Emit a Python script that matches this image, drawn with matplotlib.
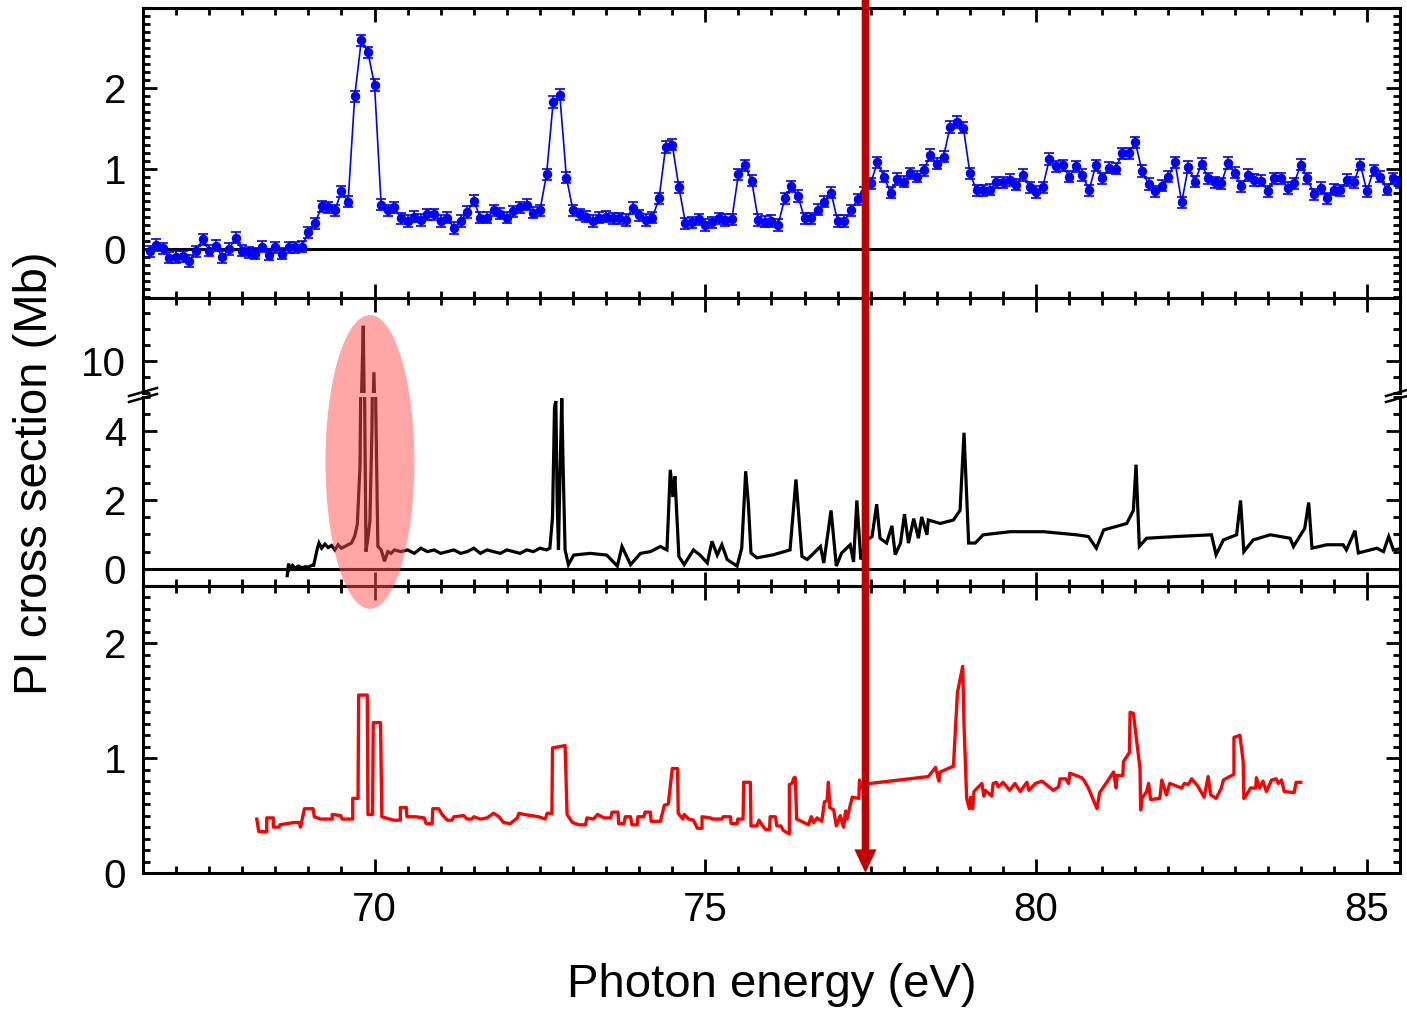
import numpy as np
import matplotlib
matplotlib.use("Agg")
import matplotlib.pyplot as plt
from matplotlib.ticker import MultipleLocator, FixedLocator
from matplotlib.patches import Ellipse, ConnectionPatch
from matplotlib.lines import Line2D

plt.rcParams['font.family'] = ['Liberation Sans', 'DejaVu Sans']

# ---- top panel: measured PI cross section (Mb), 0.1 eV grid from 66.6 eV
top_sigma = [
    -0.03, 0.05, 0.01, -0.11, -0.10, -0.09, -0.15, -0.03, 0.12, -0.02,
    0.04, -0.10, 0.00, 0.14, -0.02, -0.04, -0.06, 0.03, -0.07, 0.02,
    -0.06, 0.02, 0.02, 0.03, 0.21, 0.32, 0.53, 0.52, 0.48, 0.72,
    0.59, 1.90, 2.60, 2.45, 2.04, 0.55, 0.48, 0.52, 0.38, 0.35,
    0.40, 0.36, 0.43, 0.43, 0.35, 0.39, 0.26, 0.35, 0.46, 0.60,
    0.39, 0.39, 0.48, 0.44, 0.39, 0.47, 0.52, 0.55, 0.45, 0.48,
    0.93, 1.83, 1.92, 0.89, 0.48, 0.43, 0.40, 0.35, 0.39, 0.40,
    0.38, 0.38, 0.36, 0.51, 0.42, 0.36, 0.39, 0.63, 1.27, 1.30,
    0.77, 0.32, 0.33, 0.37, 0.30, 0.33, 0.38, 0.36, 0.37, 0.93,
    1.04, 0.85, 0.36, 0.34, 0.35, 0.30, 0.63, 0.78, 0.66, 0.38,
    0.38, 0.49, 0.59, 0.70, 0.35, 0.35, 0.48, 0.62, 0.70, 0.82,
    1.08, 0.90, 0.70, 0.87, 0.84, 0.94, 0.90, 0.98, 1.17, 1.06,
    1.15, 1.52, 1.58, 1.51, 0.94, 0.73, 0.73, 0.74, 0.83, 0.83,
    0.86, 0.80, 0.92, 0.77, 0.71, 0.77, 1.12, 1.03, 1.04, 0.90,
    1.03, 0.92, 0.73, 1.04, 0.88, 1.01, 1.00, 1.19, 1.19, 1.33,
    0.97, 0.81, 0.72, 0.79, 0.90, 1.08, 0.58, 1.02, 0.84, 1.06,
    0.88, 0.83, 0.82, 1.07, 0.95, 0.78, 0.92, 0.86, 0.85, 0.72,
    0.88, 0.88, 0.76, 0.82, 1.05, 0.88, 0.68, 0.76, 0.63, 0.74,
    0.73, 0.86, 0.83, 1.05, 0.72, 0.98, 0.90, 0.74, 0.88, 0.83,
]
top_energy = 66.6 + 0.1 * np.arange(len(top_sigma))
top_err = 0.07

# ---- middle panel: high resolution spectrum (Mb)
mid_energy = [
    68.68, 68.70, 68.72, 68.76, 68.80, 68.85, 68.90, 68.95, 69.00, 69.05,
    69.08, 69.13, 69.16, 69.20, 69.25, 69.30, 69.35, 69.40, 69.45, 69.50,
    69.55, 69.60, 69.65, 69.70, 69.74, 69.78, 69.81, 69.83, 69.85, 69.87,
    69.90, 69.93, 69.96, 69.99, 70.02, 70.05, 70.10, 70.15, 70.20, 70.25,
    70.30, 70.40, 70.50, 70.60, 70.70, 70.80, 70.90, 71.00, 71.10, 71.20,
    71.30, 71.40, 71.50, 71.60, 71.70, 71.80, 71.90, 72.00, 72.10, 72.20,
    72.30, 72.40, 72.50, 72.60, 72.65, 72.69, 72.72, 72.74, 72.76, 72.78,
    72.80, 72.83, 72.85, 72.88, 72.93, 73.01, 73.26, 73.51, 73.67, 73.74,
    73.87, 74.02, 74.17, 74.32, 74.42, 74.47, 74.51, 74.54, 74.60, 74.68,
    74.82, 74.92, 75.03, 75.10, 75.18, 75.25, 75.33, 75.48, 75.55, 75.61,
    75.65, 75.69, 75.78, 76.03, 76.28, 76.37, 76.46, 76.54, 76.74, 76.79,
    76.90, 76.98, 77.06, 77.19, 77.24, 77.29, 77.35, 77.42, 77.52, 77.59,
    77.64, 77.74, 77.82, 77.87, 77.95, 78.01, 78.07, 78.15, 78.22, 78.27,
    78.35, 78.37, 78.55, 78.75, 78.85, 78.91, 78.98, 79.08, 79.20, 79.61,
    80.11, 80.61, 80.79, 80.91, 81.02, 81.37, 81.47, 81.51, 81.56, 81.67,
    82.12, 82.65, 82.72, 82.83, 83.03, 83.09, 83.14, 83.28, 83.54, 83.84,
    83.89, 84.06, 84.12, 84.17, 84.39, 84.64, 84.69, 84.82, 84.87, 85.15,
    85.25, 85.33, 85.40, 85.55,
]
mid_sigma = [
    -0.20, 0.15, 0.00, 0.10, 0.02, 0.08, 0.03, 0.06, 0.05, 0.10,
    0.10, 0.55, 0.75, 0.60, 0.72, 0.62, 0.68, 0.55, 0.70, 0.60,
    0.65, 0.70, 0.75, 0.95, 1.30, 3.00, 9.00, 12.2, 5.00, 0.50,
    0.90, 1.40, 4.00, 9.30, 4.50, 0.65, 0.55, 0.22, 0.50, 0.45,
    0.55, 0.50, 0.55, 0.45, 0.60, 0.50, 0.55, 0.45, 0.50, 0.55,
    0.45, 0.50, 0.60, 0.45, 0.55, 0.50, 0.45, 0.55, 0.50, 0.45,
    0.55, 0.50, 0.60, 0.55, 0.60, 1.50, 4.70, 4.88, 2.00, 0.55,
    2.50, 4.96, 3.00, 0.55, 0.12, 0.40, 0.45, 0.40, 0.08, 0.65,
    0.12, 0.45, 0.50, 0.65, 0.55, 2.88, 2.09, 2.69, 0.36, 0.12,
    0.55, 0.40, 0.17, 0.80, 0.40, 0.70, 0.27, 0.08, 0.60, 2.84,
    1.90, 0.46, 0.32, 0.41, 0.55, 2.60, 0.36, 0.27, 0.65, 0.17,
    1.70, 0.08, 0.46, 0.70, 0.20, 1.99, 0.27, 0.80, 0.94, 1.88,
    0.89, 0.75, 1.25, 0.41, 0.75, 1.59, 0.75, 1.46, 0.89, 1.51,
    0.99, 1.42, 1.32, 1.42, 1.70, 3.96, 0.75, 0.75, 0.99, 1.08,
    1.08, 0.99, 0.94, 0.60, 1.13, 1.32, 1.70, 3.03, 0.65, 0.89,
    0.94, 0.99, 0.41, 0.84, 0.99, 1.99, 0.50, 0.84, 0.99, 0.89,
    0.65, 1.18, 1.93, 0.60, 0.70, 0.70, 0.55, 1.11, 0.46, 0.60,
    0.50, 0.94, 0.55, 0.60,
]

# ---- bottom panel: theory (Mb)
theo_energy = [
    68.22, 68.25, 68.37, 68.37, 68.47, 68.47, 68.56, 68.57, 68.78, 68.86,
    68.88, 68.94, 69.07, 69.09, 69.18, 69.36, 69.36, 69.49, 69.51, 69.67,
    69.67, 69.75, 69.76, 69.89, 69.90, 69.97, 69.98, 70.09, 70.11, 70.17,
    70.29, 70.39, 70.39, 70.48, 70.49, 70.62, 70.75, 70.78, 70.87, 70.88,
    70.97, 71.02, 71.10, 71.17, 71.20, 71.35, 71.40, 71.47, 71.50, 71.60,
    71.70, 71.80, 71.88, 71.95, 72.05, 72.16, 72.18, 72.26, 72.48, 72.58,
    72.61, 72.68, 72.69, 72.79, 72.88, 72.91, 72.99, 73.09, 73.19, 73.21,
    73.31, 73.37, 73.47, 73.57, 73.59, 73.68, 73.69, 73.77, 73.79, 73.87,
    73.89, 73.97, 73.98, 74.07, 74.09, 74.17, 74.18, 74.32, 74.38, 74.44,
    74.50, 74.58, 74.59, 74.66, 74.68, 74.75, 74.82, 74.88, 74.95, 74.95,
    75.08, 75.10, 75.25, 75.27, 75.38, 75.39, 75.48, 75.49, 75.57, 75.58,
    75.68, 75.69, 75.78, 75.81, 75.88, 75.91, 75.97, 75.98, 76.06, 76.08,
    76.14, 76.18, 76.27, 76.27, 76.31, 76.34, 76.36, 76.38, 76.56, 76.60,
    76.64, 76.69, 76.76, 76.80, 76.84, 76.86, 76.88, 76.94, 76.98, 77.04,
    77.09, 77.12, 77.14, 77.22, 77.32, 77.33, 77.35, 77.49, 78.37, 78.48,
    78.53, 78.55, 78.75, 78.81, 78.89, 78.91, 78.95, 78.99, 79.01, 79.04,
    79.06, 79.18, 79.21, 79.23, 79.33, 79.35, 79.40, 79.43, 79.50, 79.60,
    79.68, 79.76, 79.86, 79.89, 79.99, 80.09, 80.26, 80.34, 80.36, 80.45,
    80.49, 80.51, 80.69, 80.72, 80.79, 80.92, 80.96, 81.09, 81.17, 81.21,
    81.22, 81.31, 81.32, 81.41, 81.42, 81.47, 81.57, 81.58, 81.60, 81.67,
    81.70, 81.73, 81.87, 81.90, 81.97, 82.02, 82.20, 82.24, 82.30, 82.35,
    82.44, 82.54, 82.60, 82.64, 82.72, 82.80, 82.83, 82.99, 82.99, 83.08,
    83.13, 83.14, 83.16, 83.24, 83.32, 83.33, 83.38, 83.43, 83.48, 83.56,
    83.63, 83.66, 83.71, 83.75, 83.90, 83.93, 84.00,
]
theo_sigma = [
    0.47, 0.36, 0.36, 0.48, 0.48, 0.40, 0.40, 0.42, 0.44, 0.44,
    0.40, 0.56, 0.56, 0.49, 0.47, 0.47, 0.51, 0.50, 0.47, 0.47,
    0.65, 0.65, 1.55, 1.55, 0.51, 0.51, 1.31, 1.31, 0.49, 0.48,
    0.46, 0.46, 0.57, 0.57, 0.49, 0.49, 0.48, 0.43, 0.43, 0.56,
    0.56, 0.51, 0.46, 0.46, 0.49, 0.50, 0.47, 0.47, 0.49, 0.47,
    0.48, 0.52, 0.49, 0.44, 0.43, 0.48, 0.52, 0.51, 0.49, 0.47,
    0.52, 0.52, 1.09, 1.10, 1.11, 0.51, 0.44, 0.42, 0.42, 0.48,
    0.47, 0.51, 0.48, 0.48, 0.53, 0.53, 0.43, 0.43, 0.49, 0.49,
    0.42, 0.42, 0.49, 0.49, 0.53, 0.53, 0.45, 0.45, 0.59, 0.60,
    0.91, 0.91, 0.52, 0.47, 0.51, 0.47, 0.46, 0.39, 0.39, 0.49,
    0.48, 0.47, 0.47, 0.49, 0.49, 0.43, 0.43, 0.47, 0.47, 0.79,
    0.79, 0.41, 0.41, 0.46, 0.40, 0.38, 0.38, 0.49, 0.49, 0.41,
    0.41, 0.37, 0.34, 0.77, 0.78, 0.83, 0.83, 0.47, 0.42, 0.49,
    0.44, 0.48, 0.45, 0.62, 0.63, 0.79, 0.57, 0.55, 0.41, 0.50,
    0.40, 0.54, 0.47, 0.66, 0.65, 0.81, 0.74, 0.78, 0.84, 0.92,
    0.80, 0.88, 0.93, 1.57, 1.80, 1.29, 0.65, 0.56, 0.66, 0.56,
    0.71, 0.78, 0.67, 0.72, 0.67, 0.78, 0.79, 0.75, 0.79, 0.72,
    0.78, 0.71, 0.79, 0.72, 0.78, 0.80, 0.72, 0.75, 0.82, 0.82,
    0.78, 0.87, 0.83, 0.81, 0.74, 0.56, 0.70, 0.81, 0.88, 0.74,
    0.85, 0.85, 0.97, 1.05, 1.40, 1.39, 0.91, 0.55, 0.65, 0.71,
    0.78, 0.64, 0.65, 0.81, 0.68, 0.78, 0.74, 0.78, 0.77, 0.82,
    0.76, 0.66, 0.84, 0.68, 0.65, 0.74, 0.81, 0.86, 1.18, 1.20,
    0.97, 0.65, 0.66, 0.74, 0.74, 0.83, 0.74, 0.80, 0.71, 0.81,
    0.82, 0.78, 0.81, 0.71, 0.70, 0.79, 0.79,
]

arrow_energy = 77.42
ellipse_center = (69.93, 3.11)

W, H = 1407, 1009
fig = plt.figure(figsize=(W / 100, H / 100), dpi=100)

def frac_box(top_px, bot_px):
    return [143 / W, 1 - bot_px / H, (1400 - 143) / W, (bot_px - top_px) / H]

ax_top = fig.add_axes(frac_box(8, 298))
ax_hi = fig.add_axes(frac_box(298, 393))
ax_lo = fig.add_axes(frac_box(397, 586))
ax_bot = fig.add_axes(frac_box(586, 873))
axes = [ax_top, ax_hi, ax_lo, ax_bot]

tick_fs = 29
for ax in axes:
    ax.set_xlim(66.5, 85.5)
    ax.xaxis.set_major_locator(MultipleLocator(5))
    ax.xaxis.set_minor_locator(MultipleLocator(0.5))
    ax.tick_params(which='both', direction='in', top=True, right=True,
                   width=2.0, labelsize=tick_fs)
    ax.tick_params(which='major', length=10)
    ax.tick_params(which='minor', length=5)
    ax.tick_params(axis='y', pad=12)
    ax.tick_params(axis='x', pad=13)
    for sp in ax.spines.values():
        sp.set_linewidth(2.2)
    if ax is not ax_bot:
        ax.tick_params(labelbottom=False)

# top
ax_top.errorbar(top_energy, top_sigma, yerr=top_err, fmt='o-', color='blue',
                ms=5.8, lw=1.2, elinewidth=1.2, capsize=3.6, capthick=1.2)
ax_top.axhline(0, color='black', lw=2.2, zorder=1)
ax_top.set_ylim(-0.61, 3.0)
ax_top.yaxis.set_major_locator(FixedLocator([0, 1, 2]))
ax_top.yaxis.set_minor_locator(MultipleLocator(0.1))

# middle (broken axis)
for ax in (ax_hi, ax_lo):
    ax.plot(mid_energy, mid_sigma, color='black', lw=2.3, solid_joinstyle='miter')
ax_hi.set_ylim(8.0, 13.94)
ax_hi.yaxis.set_major_locator(FixedLocator([10]))
ax_hi.yaxis.set_minor_locator(MultipleLocator(1))
ax_hi.spines['bottom'].set_visible(False)
ax_hi.tick_params(bottom=False, which='both')
ax_lo.set_ylim(-0.5, 5.0)
ax_lo.yaxis.set_major_locator(FixedLocator([0, 2, 4]))
ax_lo.yaxis.set_minor_locator(MultipleLocator(0.5))
ax_lo.spines['top'].set_visible(False)
ax_lo.tick_params(top=False, which='both')
ax_lo.axhline(0, color='black', lw=2.2, zorder=1)

# bottom
ax_bot.plot(theo_energy, theo_sigma, color='red', lw=2.4)
ax_bot.set_ylim(0, 2.5)
ax_bot.yaxis.set_major_locator(FixedLocator([0, 1, 2]))
ax_bot.yaxis.set_minor_locator(MultipleLocator(0.1))

# axis break marks
for x0 in (143, 1400):
    for yc in (392, 398):
        fig.add_artist(Line2D([(x0 - 14) / W, (x0 + 14) / W],
                              [1 - (yc + 4) / H, 1 - (yc - 4) / H],
                              transform=fig.transFigure, color='black', lw=1.8))

# highlight ellipse
ell = Ellipse(ellipse_center, width=1.345, height=8.55, transform=ax_lo.transData,
              facecolor='#ff5050', edgecolor='none', alpha=0.5, zorder=6)
fig.add_artist(ell)

# red arrow
arrow = ConnectionPatch(xyA=(arrow_energy, 1.03), coordsA=ax_top.get_xaxis_transform(),
                        xyB=(arrow_energy, 0.0), coordsB=ax_bot.transData,
                        arrowstyle='simple,head_length=0.85,head_width=0.8,tail_width=0.27',
                        mutation_scale=20, color='#c00000', lw=0,
                        shrinkA=0, shrinkB=0, zorder=10)
fig.add_artist(arrow)

fig.text(35 / W, 1 - 473 / H, 'PI cross section (Mb)', rotation=90,
         ha='center', va='center', fontsize=34)
fig.text(772 / W, 1 - 985 / H, 'Photon energy (eV)', ha='center', va='center',
         fontsize=34)

fig.savefig('out.png', dpi=100)
